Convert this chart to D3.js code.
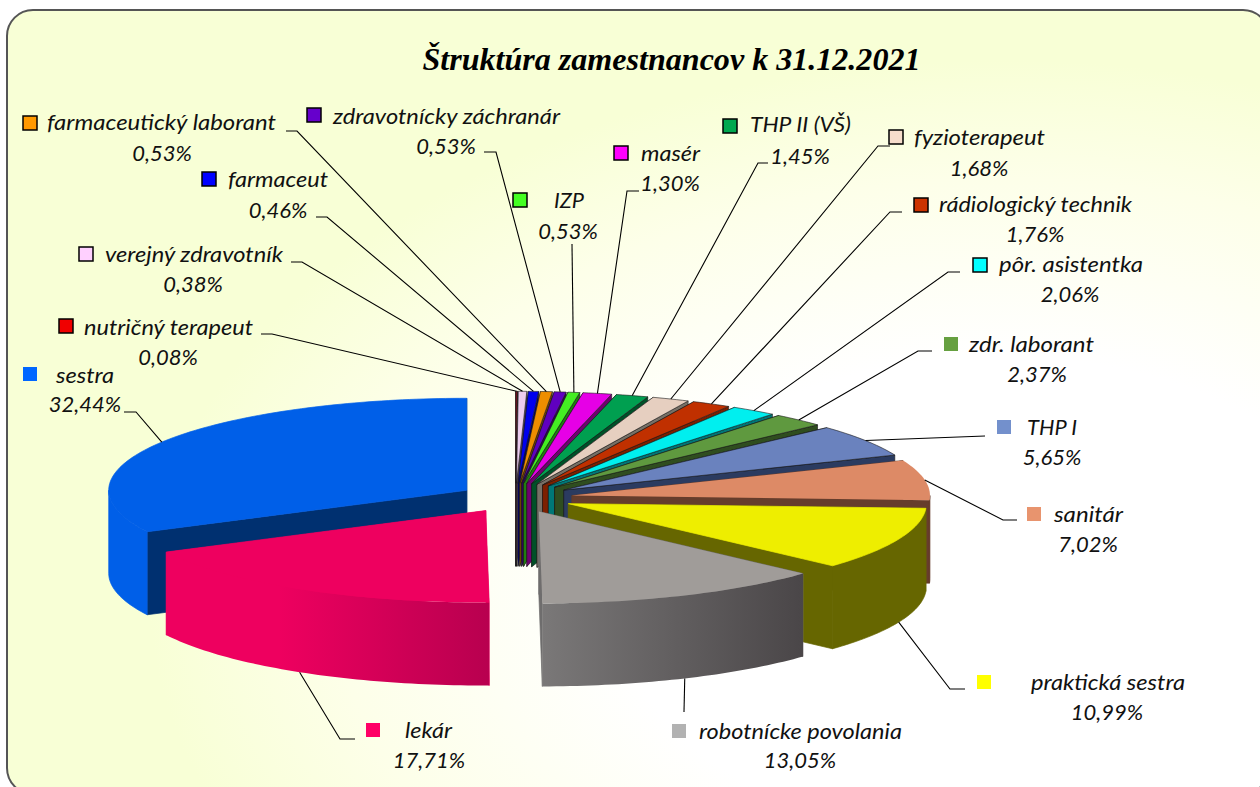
<!DOCTYPE html>
<html><head><meta charset="utf-8">
<script src="https://cdn.jsdelivr.net/npm/d3@7/dist/d3.min.js"></script>
<style>html,body{margin:0;padding:0;background:#fff;overflow:hidden}svg{display:block}</style>
</head><body><svg id="c" width="1260" height="787"></svg>
<script>
const titleText = "Štruktúra zamestnancov k 31.12.2021";
const categories = ["nutričný terapeut","verejný zdravotník","farmaceut","farmaceutický laborant","zdravotnícky záchranár","IZP","masér","THP II (VŠ)","fyzioterapeut","rádiologický technik","pôr. asistentka","zdr. laborant","THP I","sanitár","praktická sestra","robotnícke povolania","lekár","sestra"];
const values = [0.08,0.38,0.46,0.53,0.53,0.53,1.30,1.45,1.68,1.76,2.06,2.37,5.65,7.02,10.99,13.05,17.71,32.44];
const valueLabels = ["0,08%","0,38%","0,46%","0,53%","0,53%","0,53%","1,30%","1,45%","1,68%","1,76%","2,06%","2,37%","5,65%","7,02%","10,99%","13,05%","17,71%","32,44%"];
const swatchColors = ["#f00000","#ffd0ff","#0000ff","#ff9900","#6600cc","#44ff22","#ff00ff","#00a850","#f7ddcc","#cc3300","#00ffff","#66a040","#7390cc","#e8946e","#ffff00","#b2b2b2","#ff0066","#0066ff"];
const topColors = ["#7a1020","#ecccee","#0000ee","#ee8e00","#6000c0","#44ee22","#e600e6","#009f50","#e6cfc0","#c03000","#00efef","#5f993f","#6a82be","#dd8a66","#eeee00","#a09c99","#ee005f","#005fe8"];
const wallColors = ["#5a0a0a","#66506a","#000070","#7a4700","#300060","#208010","#700070","#005028","#777066","#7c2000","#007777","#2f4d1f","#2b3b60","#663d2c","#666600","#7a7878","#ee005f","#003070"];
const rimColors = [null,null,null,null,null,null,null,null,null,null,null,null,null,null,null,"#4a4648","#b8004f","#005fe8"];
const hasBorder = [1,1,1,1,1,1,1,1,1,1,1,0,0,0,0,0,0,0];

// label layout: swatch x, swatch y, name left, name right, name mid-y, value centre x, value mid-y
const labelBoxes = [
 [59,319,84,253,328,168,357],[79,247,105,283,255,193,284],[202,172,228,328,180,278,210],[23,116,47,276,123,162,153],
 [307,108,333,560,117,446,146],[513,193,554,584,201,568,231],[614,146,641,700,154,670,183],[723,119,750,851,125,800,156],
 [889,130,914,1045,138,979,168],[914,198,939,1132,205,1035,234],[973,258,999,1143,265,1070,294],[944,337,969,1094,345,1037,374],
 [997,420,1027,1077,428,1052,457],[1027,507,1054,1123,515,1088,544],[977,675,1031,1185,683,1107,712],[672,724,699,902,732,800,760],
 [366,723,405,452,731,429,760],[23,367,56,114,376,85,404]];
// leader bends, from the label end inward to the pie edge
const leaderBends = [
 [[261,334],[272,334]],[[291,262],[302,262]],[[316,217],[327,217]],[[286,131],[297,131]],
 [[484,152],[496,152]],[[572,244]],[[639,191],[627,191]],[[768,163],[758,163]],
 [[890,146],[878,146]],[[902,212],[890,212]],[[960,272],[948,272]],[[932,351],[918,351]],
 [[985,436]],[[1017,520],[1003,520]],[[965,689],[950,689]],[[684,712]],
 [[355,739],[340,739]],[[124,412],[136,412]]];

const cx=515.5, cy=498, rx=358, ry=92, depth=83, explode=0.16;
const sx=d3.scaleLinear().domain([-1,1]).range([cx-rx,cx+rx]);
const sy=d3.scaleLinear().domain([-1,1]).range([cy-ry,cy+ry]);
const svg=d3.select("#c");
const defs=svg.append("defs");
const bg=defs.append("radialGradient").attr("id","bg").attr("gradientUnits","userSpaceOnUse")
  .attr("cx",0).attr("cy",0).attr("r",1).attr("gradientTransform","translate(1000,600) scale(850,540)");
bg.append("stop").attr("offset",.45).attr("stop-color","#ffffff");
bg.append("stop").attr("offset",.78).attr("stop-color","#fdffe9");
bg.append("stop").attr("offset",1).attr("stop-color","#f8ffd6");
svg.append("rect").attr("width",1260).attr("height",787).attr("fill","#fff");
svg.append("rect").attr("x",7).attr("y",10).attr("width",1262).attr("height",784).attr("rx",26)
  .attr("fill","url(#bg)").attr("stroke","#555").attr("stroke-width",2);

svg.append("text").text(titleText).attr("x",671.5).attr("y",70).attr("text-anchor","middle")
  .attr("font-family","'Liberation Serif'").attr("font-style","italic").attr("font-weight","bold")
  .attr("font-size",32).attr("textLength",498).attr("lengthAdjust","spacingAndGlyphs").attr("fill","#000");

const pie=d3.pie().sort(null).startAngle(0).endAngle(2*Math.PI)(values);
const line=d3.line();
const slices=pie.map((p,i)=>{
  const mid=(p.startAngle+p.endAngle)/2;
  return {i,a:p.startAngle,b:p.endAngle,mid,ox:explode*Math.sin(mid),oy:-explode*Math.cos(mid)};
});
const pt=(s,ang,r=1,dz=0)=>[sx(s.ox+r*Math.sin(ang)),sy(s.oy-r*Math.cos(ang))+dz];
const arcPts=(s,a,b,dz)=>{const n=Math.max(2,Math.ceil((b-a)/0.02));return d3.range(n+1).map(k=>pt(s,a+(b-a)*k/n,1,dz));};

const gPie=svg.append("g");
slices.slice().sort((u,v)=>v.oy<u.oy?1:-1).forEach(s=>{
  const i=s.i, top=topColors[i], wall=wallColors[i];
  const g=gPie.append("g");
  const small=i<13;
  const paint=(sel,fill,solid)=>{
    sel.attr("fill",fill);
    if(small) sel.attr("stroke","#1a1a1a").attr("stroke-width",.8).attr("stroke-opacity",.75);
    else if(solid) sel.attr("stroke",fill).attr("stroke-width",.7);
    return sel;
  };
  const apex=pt(s,0,0,0), apexD=pt(s,0,0,depth);
  [s.a,s.b].forEach(ang=>{
    const r=pt(s,ang,1,0), rd=pt(s,ang,1,depth);
    paint(g.append("path").attr("d",line([apex,r,rd,apexD])+"Z"),i===15?"#6f6d6d":wall,true);
  });
  const a0=Math.max(s.a,Math.PI/2), b0=Math.min(s.b,3*Math.PI/2);
  if(a0<b0){
    let fill=wall, solid=true;
    if(i===15||i===16){
      const id="w"+i, xs=[pt(s,a0)[0],pt(s,b0)[0]];
      const gr=defs.append("linearGradient").attr("id",id).attr("gradientUnits","userSpaceOnUse")
        .attr("x1",d3.min(xs)).attr("x2",d3.max(xs)).attr("y1",0).attr("y2",0);
      gr.append("stop").attr("offset",i===16?.35:0).attr("stop-color",wall);
      gr.append("stop").attr("offset",1).attr("stop-color",rimColors[i]);
      fill="url(#"+id+")"; solid=false;
    } else if(rimColors[i]) fill=rimColors[i];
    const upper=arcPts(s,a0,b0,0), lower=arcPts(s,a0,b0,depth).reverse();
    paint(g.append("path").attr("d",line(upper.concat(lower))+"Z"),fill,solid);
  }
  paint(g.append("path").attr("d",line([apex].concat(arcPts(s,s.a,s.b,0)))+"Z"),top,i===17||i===14);
});

// leaders
const gLead=svg.append("g").attr("fill","none").attr("stroke","#000").attr("stroke-width",1.1);
slices.forEach(s=>{
  const front=Math.cos(s.mid)<0;
  const end=pt(s,s.mid,1,front?depth:0);
  gLead.append("path").attr("d",line(leaderBends[s.i].concat([end])));
});

// labels
const gLab=svg.append("g").attr("font-family","Lato").attr("font-style","italic").attr("font-size",21).attr("fill","#111");
categories.forEach((name,i)=>{
  const [mx,my,x0,x1,ny,vx,vy]=labelBoxes[i];
  gLab.append("rect").attr("x",mx).attr("y",my).attr("width",14).attr("height",14).attr("fill",swatchColors[i])
    .attr("stroke",hasBorder[i]?"#000":"none").attr("stroke-width",hasBorder[i]?1.5:0);
  gLab.append("text").text(name).attr("x",x0).attr("y",ny+7).attr("textLength",x1-x0).attr("lengthAdjust","spacingAndGlyphs");
  gLab.append("text").text(valueLabels[i]).attr("x",vx).attr("y",vy+7.5).attr("text-anchor","middle").attr("font-size",22);
});
</script></body></html>
